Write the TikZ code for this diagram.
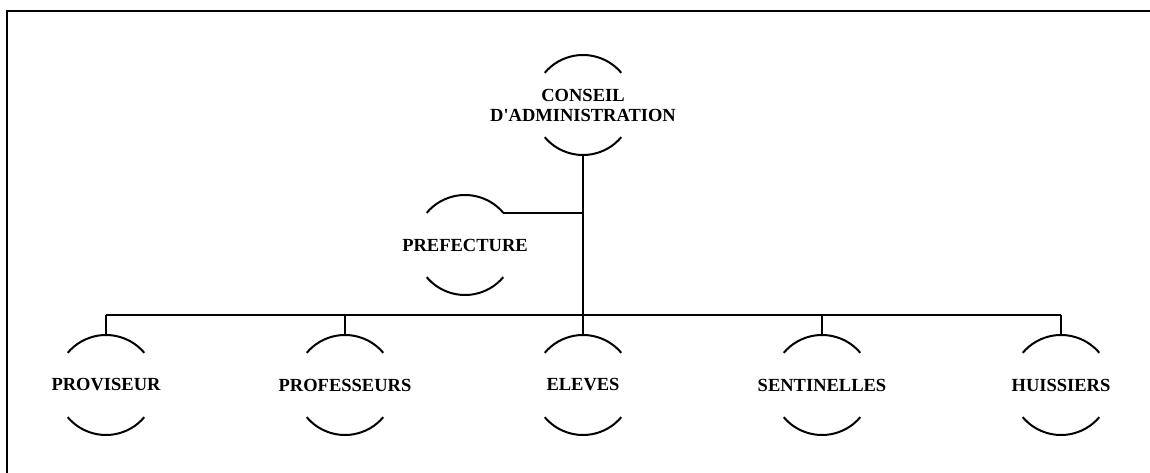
\documentclass[tikz,border=0pt]{standalone}
\usepackage{fontspec}
\setmainfont{Liberation Serif}
\usetikzlibrary{calc}
\tikzset{
  unit/.style={inner sep=0pt, align=center, font=\fontsize{18.5}{20}\selectfont\bfseries},
  arcline/.style={line width=2pt},
  link/.style={line width=2.6pt},
  frameline/.style={line width=2pt},
}
\begin{document}
\begin{tikzpicture}[x=1pt,y=1pt]
\useasboundingbox (0,0) rectangle (1150,473);
\draw[frameline] (7,0) -- (7,462) -- (1150,462);
\node[unit] (cons) at (583,368) {CONSEIL\\D\textquotesingle ADMINISTRATION};
\node[unit] (pref) at (465,228) {PREFECTURE};
\node[unit] (prov) at (106,88) {PROVISEUR};
\node[unit] (prof) at (345,88) {PROFESSEURS};
\node[unit] (elev) at (583,88) {ELEVES};
\node[unit] (sent) at (822,88) {SENTINELLES};
\node[unit] (huis) at (1061,88) {HUISSIERS};
\foreach \n in {cons,pref,prov,prof,elev,sent,huis}{
  \draw[arcline] ($(\n.center)+(40:50)$) arc[start angle=40,end angle=140,radius=50];
  \draw[arcline] ($(\n.center)+(220:50)$) arc[start angle=220,end angle=320,radius=50];
}
\coordinate (bus) at (583,158);
\coordinate (prefjoin) at ($(pref.center)+(40:50)$);
\draw[link] ($(cons.center)+(0,-50)$) -- (bus);
\draw[link] (prefjoin) -- (prefjoin -| cons.center);
\draw[link] (prov.center |- bus) -- (huis.center |- bus);
\foreach \n in {prov,prof,elev,sent,huis}{
  \draw[link] ($(\n.center)+(0,50)$) -- (\n.center |- bus);
}
\end{tikzpicture}
\end{document}
